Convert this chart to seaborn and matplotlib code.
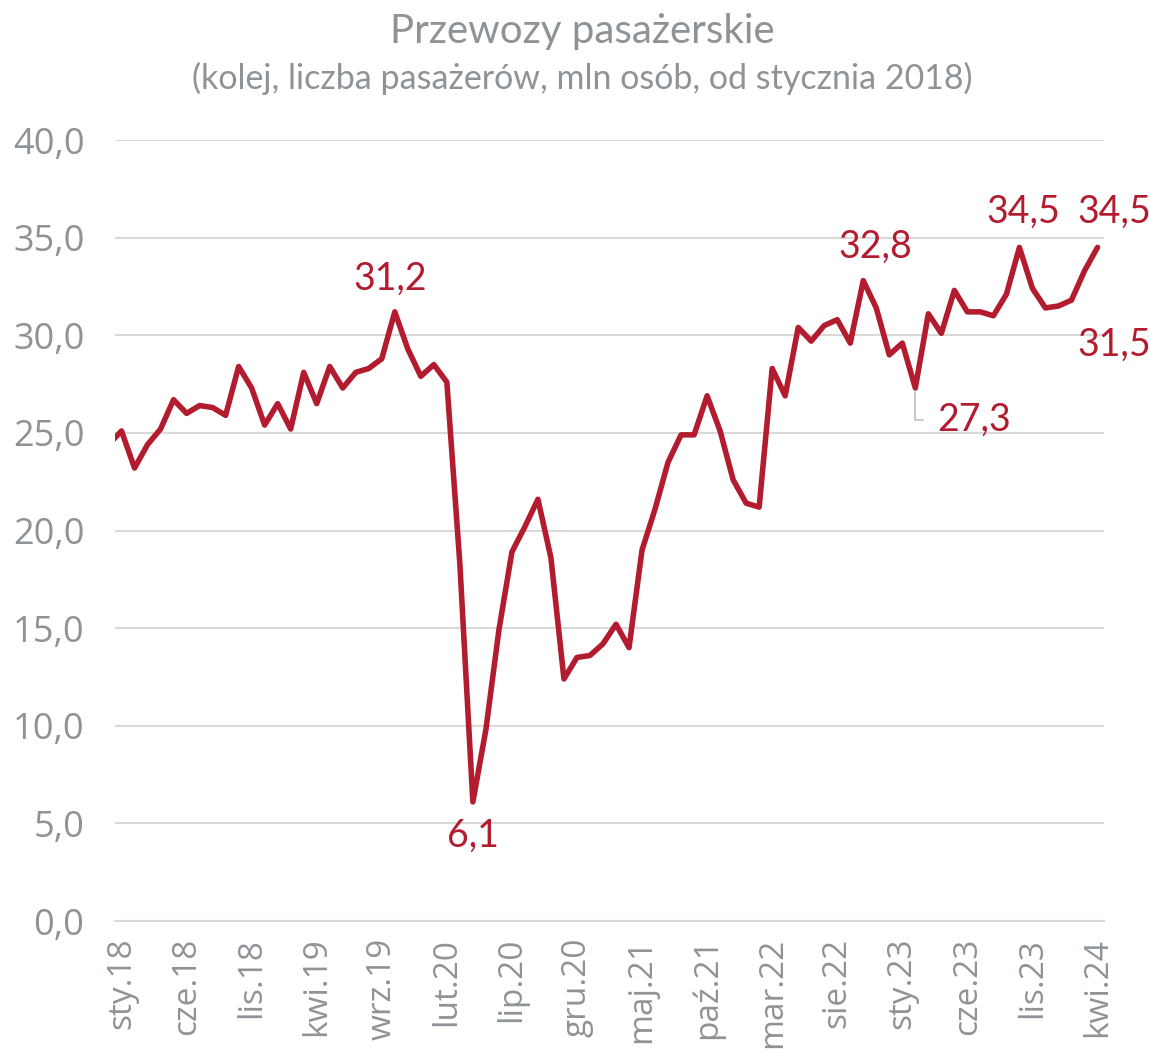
import numpy as np
import matplotlib
matplotlib.use('Agg')
import matplotlib.pyplot as plt
import seaborn as sns

# Data: rail passengers, mln, monthly from Jan 2018 (first value is Dec 2017, clipped)
values = [24.4,
          25.1, 23.2, 24.4, 25.2, 26.7, 26.0, 26.4, 26.3, 25.9, 28.4, 27.3, 25.4,
          26.5, 25.2, 28.1, 26.5, 28.4, 27.3, 28.1, 28.3, 28.8, 31.2, 29.3, 27.9,
          28.5, 27.6, 18.3, 6.1, 9.8, 14.9, 18.9, 20.2, 21.6, 18.6, 12.4, 13.5,
          13.6, 14.2, 15.2, 14.0, 19.0, 21.1, 23.5, 24.9, 24.9, 26.9, 25.1, 22.6,
          21.4, 21.2, 28.3, 26.9, 30.4, 29.7, 30.5, 30.8, 29.6, 32.8, 31.4, 29.0,
          29.6, 27.3, 31.1, 30.1, 32.3, 31.2, 31.2, 31.0, 32.1, 34.5, 32.4, 31.4,
          31.5, 31.8, 33.3, 34.5]
month_idx = list(range(-1, len(values) - 1))

tick_labels = ['sty.18', 'cze.18', 'lis.18', 'kwi.19', 'wrz.19', 'lut.20', 'lip.20',
               'gru.20', 'maj.21', 'paź.21', 'mar.22', 'sie.22', 'sty.23', 'cze.23',
               'lis.23', 'kwi.24']

# labelled points: (month index, text, offset in pixels)
point_labels = [(21, '31,2', (-5, 33)),
                (27, '6,1', (0, -34)),
                (57, '32,8', (12, 34)),
                (69, '34,5', (4, 36)),
                (75, '34,5', (17, 36)),
                (72, '31,5', (56, -39))]

RED = '#b31b2e'
GRAY = '#8e9397'
GRID = '#d9d9d9'
LABEL_FONT = ['Lato', 'DejaVu Sans']

sns.set_style('white')
plt.rcParams['font.family'] = ['Open Sans', 'DejaVu Sans']

fig = plt.figure(figsize=(11.5, 10.49), dpi=100)
ax = fig.add_axes([0.1, 0.122, 0.86, 0.7445])

sns.lineplot(x=month_idx, y=values, ax=ax, color=RED, linewidth=4.0, zorder=3)

ax.set_xlim(-0.5, 75.5)
ax.set_ylim(0, 40)
ax.set_yticks(np.arange(0, 41, 5))
ax.set_yticklabels([f'{v:.1f}'.replace('.', ',') for v in np.arange(0, 41, 5)])
ax.yaxis.grid(True, color=GRID, linewidth=1.5)
ax.set_axisbelow(True)

ax.set_xticks(np.arange(0, 76, 5))
ax.set_xticklabels(tick_labels, rotation=90, va='top', ha='center')
ax.set_xticks(np.arange(-0.5, 76, 5), minor=True)
ax.tick_params(axis='x', which='major', length=0, pad=12, labelsize=24, labelcolor=GRAY)
ax.tick_params(axis='x', which='minor', length=8, width=1.5, color=GRID, direction='out')
ax.tick_params(axis='y', length=0, pad=22, labelsize=26, labelcolor=GRAY)

for s in ['top', 'right', 'left']:
    ax.spines[s].set_visible(False)
ax.spines['bottom'].set_color(GRID)
ax.spines['bottom'].set_linewidth(1.5)
ax.set_xlabel('')
ax.set_ylabel('')

lookup = dict(zip(month_idx, values))
for i, txt, off in point_labels:
    ax.annotate(txt, xy=(i, lookup[i]), xytext=off, textcoords='offset pixels',
                ha='center', va='center', color=RED, fontsize=27, family=LABEL_FONT)

# 27,3 with a leader line
ax.annotate('27,3', xy=(61, lookup[61]), xytext=(22, -32), textcoords='offset pixels',
            ha='left', va='center', color=RED, fontsize=27, family=LABEL_FONT,
            arrowprops=dict(arrowstyle='-', color='#bfbfbf', lw=1.2,
                            connectionstyle='angle,angleA=0,angleB=90',
                            shrinkA=8, shrinkB=3))

fig.text(0.506, 0.9695, 'Przewozy pasażerskie', ha='center', va='center',
         fontsize=29, color=GRAY, family=LABEL_FONT)
fig.text(0.506, 0.9256, '(kolej, liczba pasażerów, mln osób, od stycznia 2018)',
         ha='center', va='center', fontsize=24.5, color=GRAY, family=LABEL_FONT)

fig.savefig('out.png', dpi=100)
